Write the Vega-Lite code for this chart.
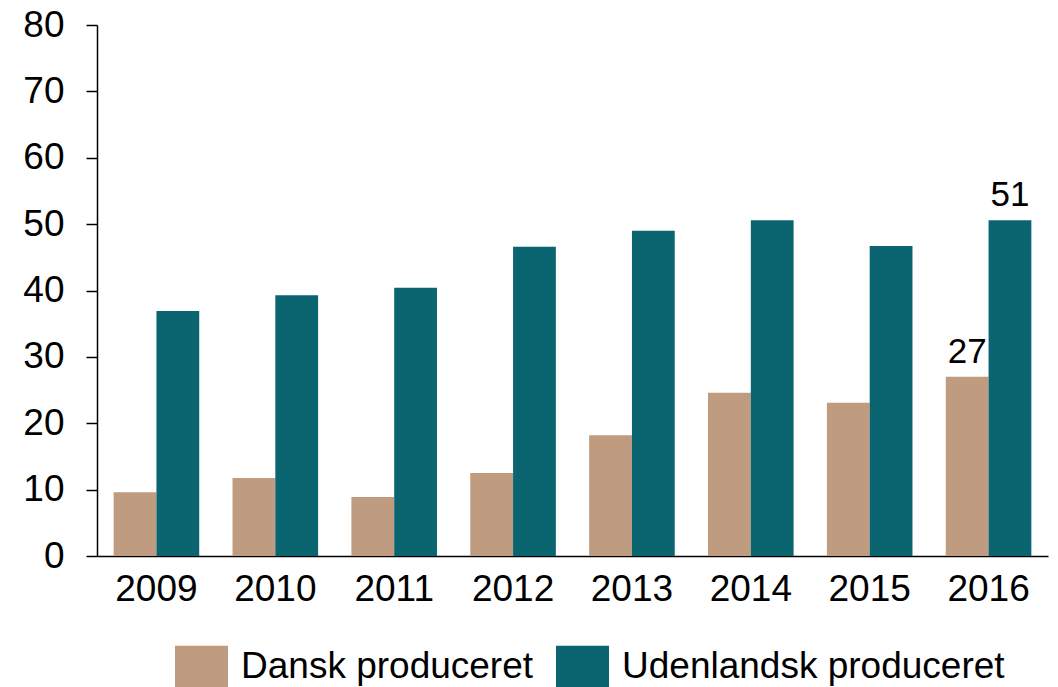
{
  "$schema": "https://vega.github.io/schema/vega-lite/v6.json",
  "width": 951,
  "height": 531,
  "autosize": "none",
  "padding": {"left": 97, "top": 25, "right": 10, "bottom": 131},
  "config": {"font": "Liberation Sans", "view": {"stroke": null}},
  "data": {
    "values": [
      {"year": "2009", "series": "Dansk produceret", "value": 9.6},
      {"year": "2009", "series": "Udenlandsk produceret", "value": 36.9},
      {"year": "2010", "series": "Dansk produceret", "value": 11.75},
      {"year": "2010", "series": "Udenlandsk produceret", "value": 39.3},
      {"year": "2011", "series": "Dansk produceret", "value": 8.9},
      {"year": "2011", "series": "Udenlandsk produceret", "value": 40.4},
      {"year": "2012", "series": "Dansk produceret", "value": 12.5},
      {"year": "2012", "series": "Udenlandsk produceret", "value": 46.6},
      {"year": "2013", "series": "Dansk produceret", "value": 18.2},
      {"year": "2013", "series": "Udenlandsk produceret", "value": 49.0},
      {"year": "2014", "series": "Dansk produceret", "value": 24.6},
      {"year": "2014", "series": "Udenlandsk produceret", "value": 50.6},
      {"year": "2015", "series": "Dansk produceret", "value": 23.1},
      {"year": "2015", "series": "Udenlandsk produceret", "value": 46.7},
      {"year": "2016", "series": "Dansk produceret", "value": 27.0},
      {"year": "2016", "series": "Udenlandsk produceret", "value": 50.6}
    ]
  },
  "encoding": {
    "x": {
      "field": "year",
      "type": "nominal",
      "scale": {"paddingInner": 0.28, "paddingOuter": 0.14},
      "axis": {
        "title": null,
        "labelAngle": 0,
        "labelFontSize": 37,
        "labelColor": "black",
        "ticks": false,
        "domainColor": "black",
        "domainWidth": 1.5,
        "labelPadding": 15
      }
    },
    "xOffset": {
      "field": "series",
      "type": "nominal",
      "sort": ["Dansk produceret", "Udenlandsk produceret"],
      "scale": {"paddingInner": 0, "paddingOuter": 0}
    },
    "y": {
      "field": "value",
      "type": "quantitative",
      "scale": {"domain": [0, 80], "nice": false},
      "axis": {
        "title": null,
        "values": [0, 10, 20, 30, 40, 50, 60, 70, 80],
        "grid": false,
        "tickSize": 11,
        "tickColor": "black",
        "tickWidth": 1.5,
        "domainColor": "black",
        "domainWidth": 1.5,
        "labelFontSize": 37,
        "labelColor": "black",
        "labelPadding": 22
      }
    }
  },
  "layer": [
    {
      "mark": {"type": "bar"},
      "encoding": {
        "color": {
          "field": "series",
          "type": "nominal",
          "scale": {
            "domain": ["Dansk produceret", "Udenlandsk produceret"],
            "range": ["#BF9B80", "#0A6570"]
          },
          "legend": {
            "title": null,
            "orient": "none",
            "direction": "horizontal",
            "legendX": 78,
            "legendY": 615,
            "labelFontSize": 37,
            "labelColor": "black",
            "labelLimit": 600,
            "labelOffset": 13,
            "columnPadding": 22,
            "symbolType": "M-1,-0.79H1V0.79H-1Z",
            "symbolSize": 2809,
            "symbolStrokeWidth": 0,
            "symbolOpacity": 1
          }
        }
      }
    },
    {
      "transform": [{"filter": "datum.year == '2016'"}],
      "mark": {"type": "text", "baseline": "alphabetic", "dy": -14, "fontSize": 35, "color": "black"},
      "encoding": {"text": {"field": "value", "type": "quantitative", "format": ".0f"}}
    }
  ]
}
